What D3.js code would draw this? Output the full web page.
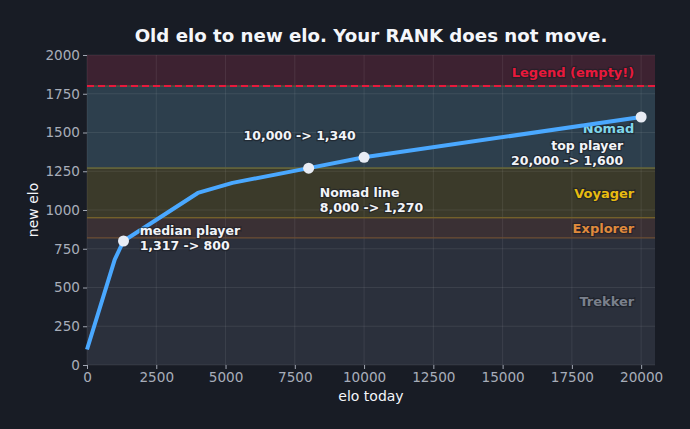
<!DOCTYPE html>
<html>
<head>
<meta charset="utf-8">
<script src="https://cdn.jsdelivr.net/npm/d3@7"></script>
<style>
  body { margin: 0; background: #181c25; }
  svg { display: block; font-family: "DejaVu Sans", sans-serif; }
</style>
</head>
<body>
<div id="vis"></div>
<script>
// data
const oldElo = [0, 1000, 1317, 4000, 5250, 8000, 10000, 20000];
const newElo = [100, 680, 800, 1110, 1175, 1270, 1340, 1600];
const markedOld = [1317, 8000, 10000, 20000];
const markedNew = [800, 1270, 1340, 1600];

const bandNames = ["Trekker", "Explorer", "Voyager", "Nomad", "Legend (empty!)"];
const bandFrom = [0, 820, 950, 1270, 1800];
const bandTo = [820, 950, 1270, 1800, 2000];

const xTicks = [0, 2500, 5000, 7500, 10000, 12500, 15000, 17500, 20000];
const yTicks = [0, 250, 500, 750, 1000, 1250, 1500, 1750, 2000];

// sizes
let margin = { top: 55, left: 87, right: 35, bottom: 64 },
    width = 690 - margin.left - margin.right,
    height = 429 - margin.top - margin.bottom;

const bandFill = ['#2b303c', '#3a3034', '#3b3a2a', '#2d3f4d', '#3d2231'];
const bandText = ['#7a808c', '#e08a3c', '#e8bb10', '#7fd6ea', '#e8193c'];
const bandEdge = [null, '#6e4f35', '#7a6828', '#5e6540', null];

let svg = d3.select('#vis')
  .append('svg')
  .attr('width', 690)
  .attr('height', 429)
  .style('background-color', '#181c25');

const x = d3.scaleLinear().domain([0, 20500]).range([0, width]);
const y = d3.scaleLinear().domain([0, 2000]).range([height, 0]);

const g = svg.append('g').attr('transform', `translate(${margin.left},${margin.top})`);

// bands
bandNames.forEach((name, i) => {
  g.append('rect')
    .attr('x', 0)
    .attr('width', width)
    .attr('y', y(bandTo[i]))
    .attr('height', y(bandFrom[i]) - y(bandTo[i]))
    .attr('fill', bandFill[i]);
});

// grid
g.append('g')
  .selectAll('line')
  .data(xTicks)
  .join('line')
  .attr('x1', d => x(d)).attr('x2', d => x(d))
  .attr('y1', 0).attr('y2', height)
  .attr('stroke', '#ffffff').attr('stroke-opacity', 0.08);
g.append('g')
  .selectAll('line')
  .data(yTicks)
  .join('line')
  .attr('x1', 0).attr('x2', width)
  .attr('y1', d => y(d)).attr('y2', d => y(d))
  .attr('stroke', '#ffffff').attr('stroke-opacity', 0.08);

// band edges
bandNames.forEach((name, i) => {
  if (!bandEdge[i]) return;
  [bandFrom[i], bandTo[i]].forEach(v => {
    g.append('line')
      .attr('x1', 0).attr('x2', width)
      .attr('y1', y(v)).attr('y2', y(v))
      .attr('stroke', bandEdge[i]).attr('stroke-width', 1.2);
  });
});

// legend cap line
g.append('line')
  .attr('x1', 0).attr('x2', width)
  .attr('y1', y(1800)).attr('y2', y(1800))
  .attr('stroke', '#e8193c').attr('stroke-width', 2)
  .attr('stroke-dasharray', '7,4');

// band labels
bandNames.forEach((name, i) => {
  const ty = i == 4 ? y(1800) - 9 : (i == 3 ? y(1500) : (i == 0 ? y(380) : y((bandFrom[i] + bandTo[i]) / 2) + 5));
  g.append('text')
    .attr('x', x(19750))
    .attr('y', ty)
    .attr('text-anchor', 'end')
    .attr('font-size', 13)
    .attr('font-weight', 'bold')
    .attr('fill', bandText[i])
    .attr('stroke', '#1a1d24').attr('stroke-width', 2.5).attr('stroke-opacity', 0.6)
    .attr('paint-order', 'stroke')
    .text(name);
});

// axes
const xAxis = g.append('g')
  .attr('transform', `translate(0,${height})`)
  .call(d3.axisBottom(x).tickValues(xTicks).tickFormat(d3.format('d')).tickSize(4).tickPadding(3));
const yAxis = g.append('g')
  .call(d3.axisLeft(y).tickValues(yTicks).tickFormat(d3.format('d')).tickSize(4).tickPadding(3));
[xAxis, yAxis].forEach(a => {
  a.select('.domain').remove();
  a.selectAll('line').attr('stroke', '#a0a6b2');
  a.selectAll('text').attr('fill', '#a7adb9').attr('font-size', 13.6).attr('font-family', 'DejaVu Sans');
});

// line
const pts = oldElo.map((d, i) => [d, newElo[i]]);
g.append('path')
  .datum(pts)
  .attr('fill', 'none')
  .attr('stroke', '#4aa8ff')
  .attr('stroke-width', 4)
  .attr('stroke-linejoin', 'round')
  .attr('d', d3.line().x(d => x(d[0])).y(d => y(d[1])));

g.append('g')
  .selectAll('circle')
  .data(markedOld)
  .join('circle')
  .attr('cx', d => x(d))
  .attr('cy', (d, i) => y(markedNew[i]))
  .attr('r', 5.5)
  .attr('fill', '#e8ecf4');

// annotations
const notes = [
  { lines: ['median player', '1,317 -> 800'], x: 1900, y: 840, anchor: 'start' },
  { lines: ['10,000 -> 1,340'], x: 5650, y: 1450, anchor: 'start' },
  { lines: ['Nomad line', '8,000 -> 1,270'], x: 8400, y: 1085, anchor: 'start' },
  { lines: ['top player', '20,000 -> 1,600'], x: 19350, y: 1385, anchor: 'end' }
];
notes.forEach(n => {
  const t = g.append('text')
    .attr('x', x(n.x))
    .attr('y', y(n.y))
    .attr('text-anchor', n.anchor)
    .attr('font-size', 12.5)
    .attr('font-weight', 'bold')
    .attr('fill', '#f2f4f8')
    .attr('stroke', '#1a1d24').attr('stroke-width', 2.5).attr('stroke-opacity', 0.6)
    .attr('paint-order', 'stroke');
  n.lines.forEach((l, j) => {
    t.append('tspan').attr('x', x(n.x)).attr('dy', j == 0 ? 0 : 15).text(l);
  });
});

// titles
svg.append('text')
  .attr('x', margin.left + width / 2)
  .attr('y', 42)
  .attr('text-anchor', 'middle')
  .attr('font-size', 18.2)
  .attr('font-weight', 'bold')
  .attr('fill', '#f4f6fa')
  .text('Old elo to new elo. Your RANK does not move.');

svg.append('text')
  .attr('x', margin.left + width / 2)
  .attr('y', 401)
  .attr('text-anchor', 'middle')
  .attr('font-size', 14)
  .attr('fill', '#f4f6fa')
  .text('elo today');

svg.append('text')
  .attr('transform', `translate(38,${margin.top + height / 2}) rotate(-90)`)
  .attr('text-anchor', 'middle')
  .attr('font-size', 14)
  .attr('fill', '#f4f6fa')
  .text('new elo');
</script>
</body>
</html>
